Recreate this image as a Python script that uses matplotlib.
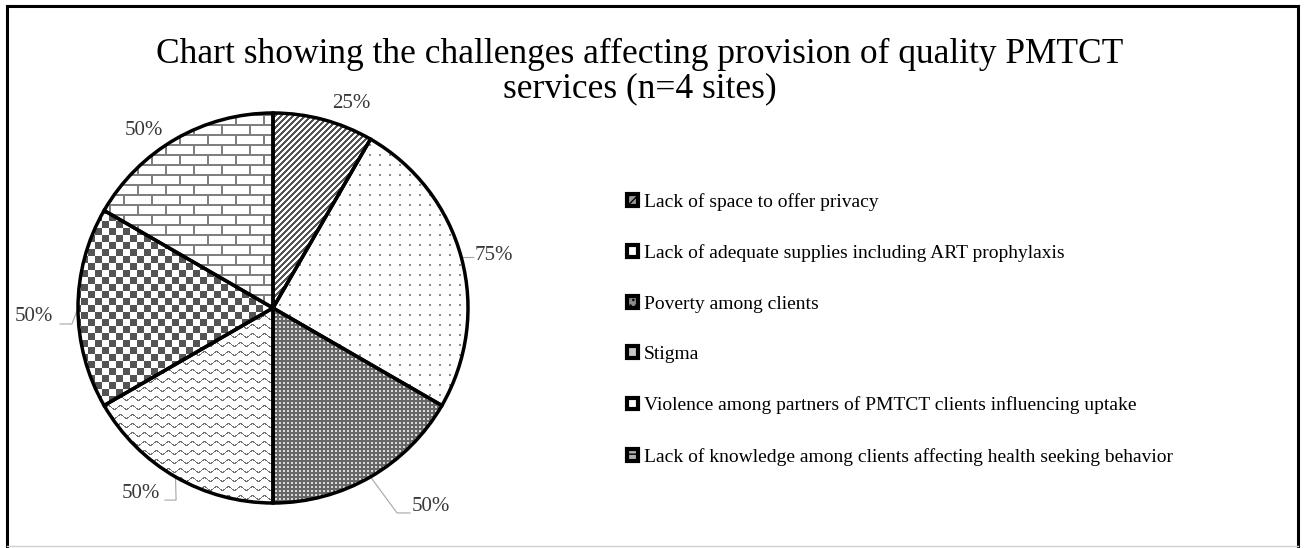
import numpy as np
import matplotlib
matplotlib.use("Agg")
import matplotlib.pyplot as plt
from matplotlib.patches import Patch
from matplotlib.lines import Line2D

plt.rcParams["font.family"] = ["Liberation Serif", "DejaVu Serif"]

# Data
TITLE_LINES = [
    "Chart showing the challenges affecting provision of quality PMTCT",
    "services (n=4 sites)",
]
challenges = [
    "Lack of space to offer privacy",
    "Lack of adequate supplies including ART prophylaxis",
    "Poverty among clients",
    "Stigma",
    "Violence among partners of PMTCT clients influencing uptake",
    "Lack of knowledge among clients affecting health seeking behavior",
]
percent_sites = [25, 75, 50, 50, 50, 50]
pct_labels = ["25%", "75%", "50%", "50%", "50%", "50%"]

# Layout (figure pixels / data units, radius = 1)
W, H, DPI = 1304, 548, 100
CX, CY, R_PX = 273, 308, 195
LIM = 1.2
N_PX = int(round(2 * LIM * R_PX))

textures = ["stripes", "dots", "mesh", "waves", "checker", "bricks"]
label_pos = [(0.40, 1.05), (1.133, 0.267), (0.81, -1.02),
             (-0.677, -0.949), (-1.226, -0.046), (-0.66, 0.91)]
leader_elbows = {
    1: [(1.03, 0.259)],
    2: [(0.703, -1.051), (0.636, -1.051)],
    3: [(-0.554, -0.985), (-0.497, -0.985)],
    4: [(-1.092, -0.082), (-1.031, -0.082)],
}
legend_faces = ["#9a9a9a", "white", "#8a8a8a", "#c8c8c8", "white", "#b0b0b0"]
legend_hatch = ["////", None, "...", None, None, "--"]


def make_texture(kind, n):
    yy, xx = np.mgrid[0:n, 0:n]
    img = np.ones((n, n, 3))
    if kind == "stripes":
        img[(xx + yy) % 6 < 3] = 0.33
    elif kind == "dots":
        img[(xx % 10 < 2) & (yy % 10 < 2)] = 0.55
    elif kind == "mesh":
        img[:] = 0.40
        img[(xx % 4 < 2) & (yy % 4 < 2)] = 0.85
    elif kind == "waves":
        off = 2.0 * np.sin(2 * np.pi * xx / 12)
        img[np.abs(((yy - off) % 9) - 4.5) > 3.6] = 0.45
    elif kind == "checker":
        img[((xx // 7) + (yy // 7)) % 2 == 0] = 0.33
    elif kind == "bricks":
        row = yy // 10
        h = yy % 10 < 2
        v = (xx + (row % 2) * 14) % 28 < 2
        img[h | v] = 0.5
    return img


fig = plt.figure(figsize=(W / DPI, H / DPI), dpi=DPI)
ax = fig.add_axes([(CX - N_PX / 2) / W, (H - CY - N_PX / 2) / H, N_PX / W, N_PX / H])

# clockwise from 12 o'clock
wedges, _ = ax.pie(percent_sites, startangle=90, counterclock=False,
                   colors=["none"] * len(percent_sites),
                   wedgeprops=dict(edgecolor="black", linewidth=2.5))

for w, kind in zip(wedges, textures):
    w.set_zorder(3)
    im = ax.imshow(make_texture(kind, N_PX), extent=(-LIM, LIM, -LIM, LIM),
                   interpolation="nearest", zorder=1)
    im.set_clip_path(w)

for i, (w, lab, (tx, ty)) in enumerate(zip(wedges, pct_labels, label_pos)):
    ax.text(tx, ty, lab, ha="center", va="center", fontsize=15, color="#383838")
    if i in leader_elbows:
        mid = np.deg2rad((w.theta1 + w.theta2) / 2)
        pts = leader_elbows[i] + [(np.cos(mid), np.sin(mid))]
        ax.plot([p[0] for p in pts], [p[1] for p in pts], color="#a6a6a6",
                lw=0.8, clip_on=False, zorder=2)

ax.set_xlim(-LIM, LIM)
ax.set_ylim(-LIM, LIM)
ax.set_aspect("equal")
ax.axis("off")

# title
fig.text(640 / W, (H - 63) / H, TITLE_LINES[0], ha="center", va="baseline", fontsize=25.5)
fig.text(640 / W, (H - 97) / H, TITLE_LINES[1], ha="center", va="baseline", fontsize=25.5)

# legend
handles = [Patch(facecolor=fc, edgecolor="black", linewidth=3, hatch=hc)
           for fc, hc in zip(legend_faces, legend_hatch)]
fig.legend(handles, challenges, loc="upper left",
           bbox_to_anchor=(627 / W, (H - 193) / H), frameon=False, fontsize=14,
           handlelength=0.55, handleheight=0.55, handletextpad=0.3,
           labelspacing=1.72, borderpad=0, borderaxespad=0)

# outer frame
frame_kw = dict(transform=None, color="black", lw=2.2)
fig.add_artist(Line2D([7, 7], [H - 6, H - 546], **frame_kw))
fig.add_artist(Line2D([7, 1298], [H - 6, H - 6], **frame_kw))
fig.add_artist(Line2D([1298, 1298], [H - 6, H - 546], **frame_kw))
fig.add_artist(Line2D([7, 1298], [H - 546, H - 546], transform=None, color="#d0d0d0", lw=1))

fig.savefig("out.png", dpi=DPI)
